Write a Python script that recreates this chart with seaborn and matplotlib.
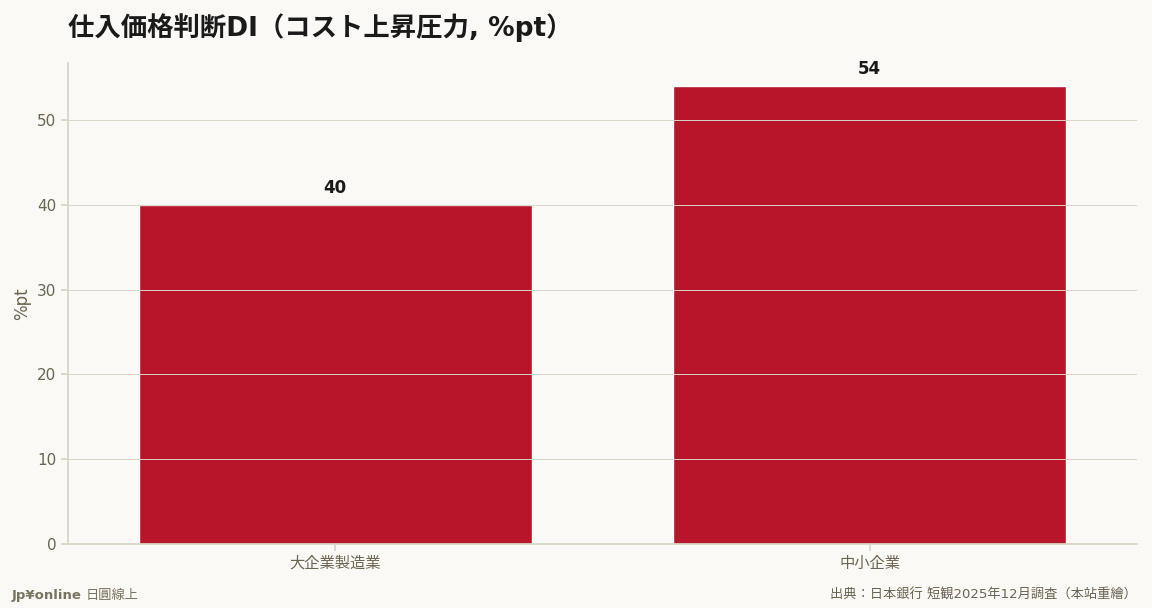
import matplotlib
matplotlib.use("Agg")
import matplotlib.pyplot as plt
import seaborn as sns
import pandas as pd

categories = ["大企業製造業", "中小企業"]
values = [40, 54]

sns.set_theme(style="white")
plt.rcParams['font.family'] = ['DejaVu Sans', 'Noto Sans CJK JP']
bg = "#faf9f5"
fig = plt.figure(figsize=(11.52, 6.08), dpi=100, facecolor=bg)
ax = fig.add_axes([68/1152, 1-544/608, (1137-68)/1152, (544-63)/608])
ax.set_facecolor(bg)
df = pd.DataFrame({"cat": categories, "val": values})
sns.barplot(data=df, x="cat", y="val", color="#b8152b", saturation=1, width=0.735, ax=ax, zorder=2)
ax.set_ylim(0, 56.7)
ax.set_yticks([0, 10, 20, 30, 40, 50])
ax.grid(axis="y", color="#d8d4c8", linewidth=0.7, zorder=3)
ax.set_axisbelow(False)
for s in ["top", "right"]:
    ax.spines[s].set_visible(False)
for s in ["left", "bottom"]:
    ax.spines[s].set_color("#d8d4c4")
ax.tick_params(axis="both", colors="#d8d4c4", labelcolor="#6b6451", labelsize=11, length=5, left=True, bottom=True)
ax.set_xlabel("")
ax.set_ylabel("%pt", color="#6b6451", fontsize=12)
for i, v in enumerate(values):
    ax.text(i, v + 0.9, f"{v}", ha="center", va="bottom", fontsize=12, fontweight="bold", color="#1a1a1a")
fig.text(68/1152, 1-28/608, "仕入価格判断DI（コスト上昇圧力, %pt）", fontsize=19, fontweight="bold",
         color="#1a1a1a", va="center", ha="left")
fig.text(12/1152, 1-595/608, "Jp¥online", fontsize=9.5, fontweight="bold", color="#7a7360", va="center")
fig.text(86/1152, 1-595/608, "日圓線上", fontsize=9.5, color="#7a7360", va="center")
fig.text(1137/1152, 1-595/608, "出典：日本銀行 短観2025年12月調査（本站重繪）", fontsize=9.5, color="#6b6451",
         va="center", ha="right")
fig.savefig("out.png", dpi=100, facecolor=bg)
